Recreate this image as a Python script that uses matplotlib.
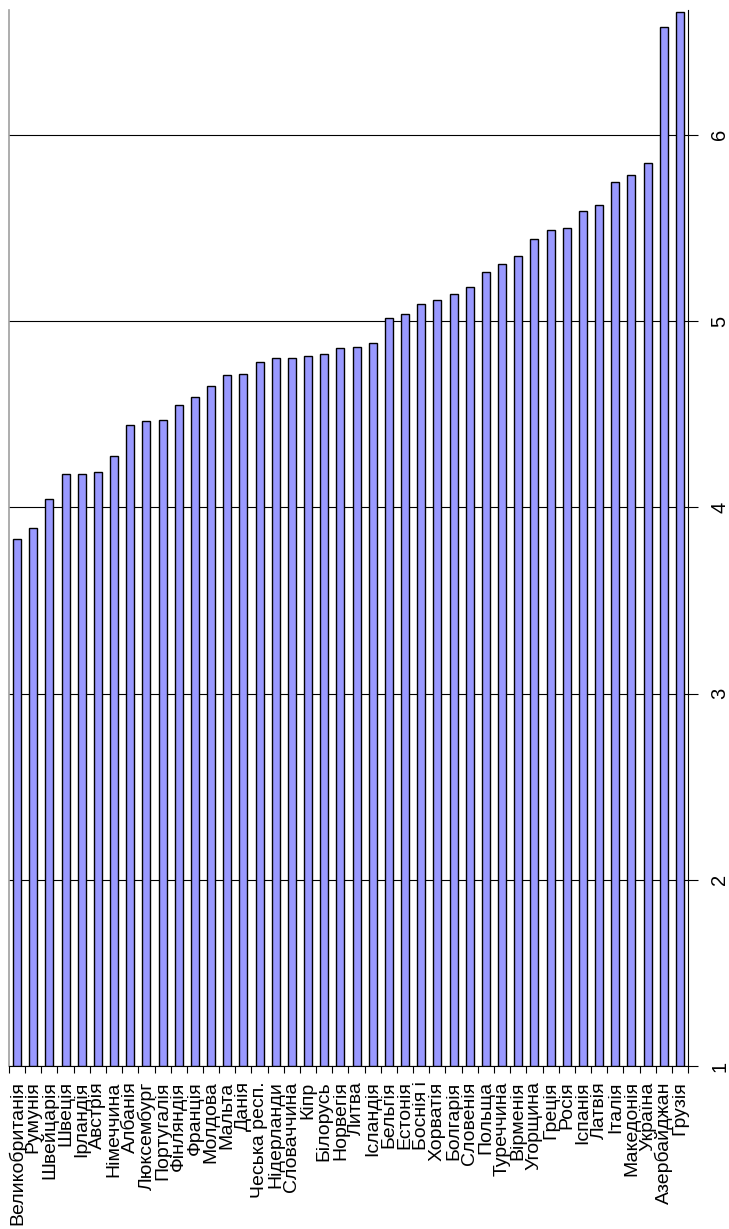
import matplotlib
matplotlib.use('Agg')
import matplotlib.pyplot as plt  # Graphing
import numpy as np

plt.rcParams['font.family'] = ['Liberation Sans', 'DejaVu Sans']

countries = ['Великобританія', 'Румунія', 'Швейцарія', 'Швеція', 'Ірландія', 'Австрія',
             'Німеччина', 'Албанія', 'Люксембург', 'Португалія', 'Фінляндія', 'Франція',
             'Молдова', 'Мальта', 'Данія', 'Чеська респ.', 'Нідерланди', 'Словаччина',
             'Кіпр', 'Білорусь', 'Норвегія', 'Литва', 'Ісландія', 'Бельгія', 'Естонія',
             'Боснія і', 'Хорватія', 'Болгарія', 'Словенія', 'Польща', 'Туреччина',
             'Вірменія', 'Угорщина', 'Греція', 'Росія', 'Іспанія', 'Латвія', 'Італія',
             'Македонія', 'Україна', 'Азербайджан', 'Грузія']

scores = [3.83, 3.89, 4.045, 4.18, 4.18, 4.19, 4.276, 4.44, 4.464, 4.471, 4.547, 4.59,
          4.65, 4.71, 4.717, 4.78, 4.80, 4.80, 4.81, 4.823, 4.853, 4.86, 4.883, 5.016,
          5.04, 5.093, 5.113, 5.144, 5.184, 5.265, 5.305, 5.348, 5.44, 5.49, 5.498,
          5.59, 5.625, 5.745, 5.783, 5.85, 6.58, 6.66]

valueTicks = [1, 2, 3, 4, 5, 6]

fig = plt.figure(figsize=(7.29, 12.29), dpi=100)
ax = fig.add_axes([9 / 729, 163 / 1229, 679 / 729, 1056 / 1229])

xPos = np.arange(len(countries))
ax.bar(xPos, np.array(scores) - 1, 0.5, bottom=1, color='#9999FF',
       edgecolor='black', linewidth=1.0, zorder=3)

ax.set_xlim(-0.5, len(countries) - 0.5)
ax.set_ylim(1, 6.67)

# value axis sits on the right, labels turned like the rest of the page
ax.yaxis.tick_right()
ax.set_yticks(valueTicks)
ax.set_yticklabels([str(v) for v in valueTicks], rotation=90, va='center', fontsize=14.5)
ax.tick_params(axis='y', which='major', length=7, width=0.8, color='black', pad=9)
ax.grid(axis='y', color='black', linewidth=0.8, zorder=1)

ax.set_xticks(xPos)
ax.set_xticklabels(countries, rotation=90, ha='center', va='top', fontsize=14)
ax.set_xticks(np.arange(len(countries) + 1) - 0.5, minor=True)
ax.tick_params(axis='x', which='major', length=0, pad=11)
ax.tick_params(axis='x', which='minor', length=5, width=0.8, color='black')

ax.spines['top'].set_visible(False)
ax.spines['left'].set_color('#a0a0a0')
ax.spines['left'].set_linewidth(1.2)
ax.spines['right'].set_color('black')
ax.spines['right'].set_linewidth(0.8)
ax.spines['bottom'].set_color('black')
ax.spines['bottom'].set_linewidth(0.8)

plt.savefig('out.png', dpi=100)
plt.close()
